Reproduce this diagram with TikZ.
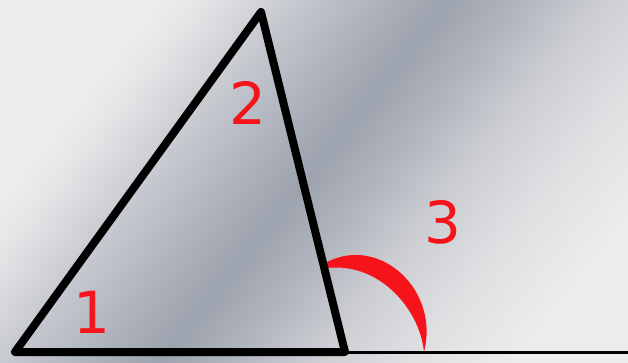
\documentclass[tikz,border=0pt]{standalone}
\usepackage{fontspec}
\setmainfont{DejaVu Sans}
\usepackage{xcolor}
\usepackage{tikz}
\usetikzlibrary{positioning}

\definecolor{bgpale}{HTML}{EEEEEE}
\definecolor{bglight}{HTML}{E6E6E8}
\definecolor{bgmid}{HTML}{C4C7CD}
\definecolor{bgdeep}{HTML}{A8ADB7}
\definecolor{bgdark}{HTML}{9DA3AE}
\definecolor{bgback}{HTML}{B0B4BD}
\definecolor{bgsoft}{HTML}{CBCDD2}
\definecolor{bgfade}{HTML}{DFE0E2}
\definecolor{bgwhite}{HTML}{ECECEC}
\definecolor{anglered}{HTML}{F5141A}

% the middle 50bp of the shading covers the shaded box
\pgfdeclarehorizontalshading{bgband}{100bp}{%
  color(0bp)=(bgpale); color(33.6bp)=(bgpale); color(36.2bp)=(bglight);
  color(41.5bp)=(bgmid); color(46.8bp)=(bgdeep); color(49.4bp)=(bgdark);
  color(53.1bp)=(bgback); color(57.3bp)=(bgsoft); color(62.6bp)=(bgfade);
  color(67.9bp)=(bgwhite); color(100bp)=(bgwhite)}

\begin{document}
\begin{tikzpicture}[
  x=1pt, y=-1pt,
  side/.style={line width=8pt, line join=round, line cap=round},
  ray/.style={line width=3pt},
  num/.style={text=anglered, inner sep=0pt, font=\fontsize{58}{60}\selectfont}
]
  \useasboundingbox (0,0) rectangle (628,362);

  % background
  \begin{scope}
    \clip (0,0) rectangle (628,362);
    \begin{scope}[x=1pt, y=1pt, transform canvas={rotate=-38.66}]
      \shade[shading=bgband] (-10,-300) rectangle (730,410);
    \end{scope}
  \end{scope}

  \coordinate (left) at (15,352);
  \coordinate (apex) at (261,12);
  \coordinate (right) at (345,352);
  \coordinate (far) at (628,352);

  % exterior angle
  \fill[anglered] (327,262) .. controls (380,235) and (440,290) .. (424,352)
    .. controls (420,310) and (380,262) .. (327,268) -- cycle;

  \draw[ray] (right) -- (far);
  \draw[side] (left) -- (apex) -- (right) -- cycle;

  \node[num] (one) at (92,312) {1};
  \node[num] (two) at (248,103) {2};
  \node[num] (three) at (443,222) {3};
\end{tikzpicture}
\end{document}
